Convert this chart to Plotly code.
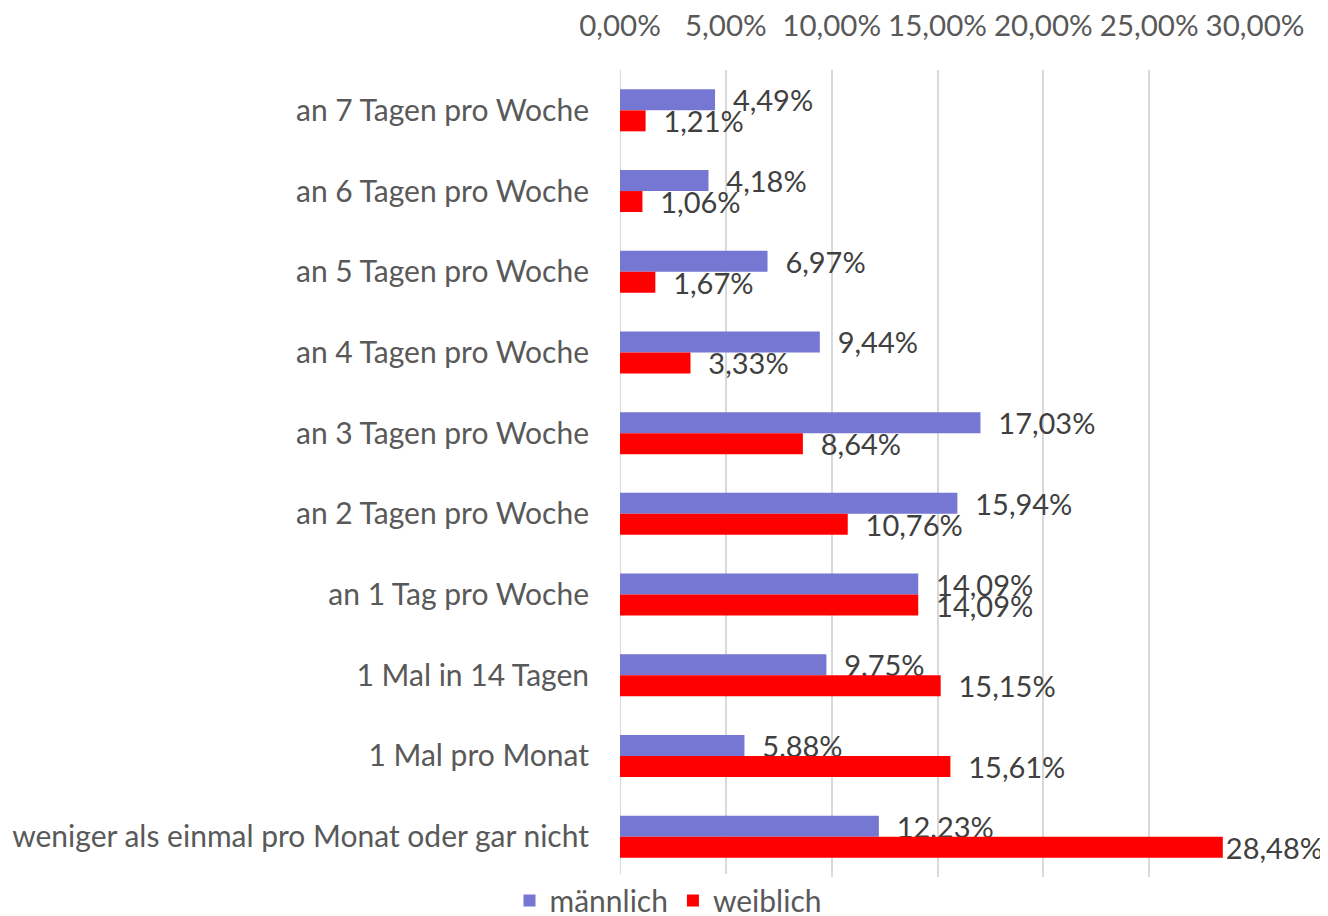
import plotly.graph_objects as go

categories = [
    "an 7 Tagen pro Woche",
    "an 6 Tagen pro Woche",
    "an 5 Tagen pro Woche",
    "an 4 Tagen pro Woche",
    "an 3 Tagen pro Woche",
    "an 2 Tagen pro Woche",
    "an 1 Tag pro Woche",
    "1 Mal in 14 Tagen",
    "1 Mal pro Monat",
    "weniger als einmal pro Monat oder gar nicht",
]
maennlich = [4.49, 4.18, 6.97, 9.44, 17.03, 15.94, 14.09, 9.75, 5.88, 12.23]
weiblich = [1.21, 1.06, 1.67, 3.33, 8.64, 10.76, 14.09, 15.15, 15.61, 28.48]
tick_vals = [0, 5, 10, 15, 20, 25, 30]

FONT = "Lato"
FS_CAT = 30
FS_NUM = 29
fig = go.Figure()
for name, vals, color in [("männlich", maennlich, "#7676D3"), ("weiblich", weiblich, "#FF0000")]:
    xs = [v / 100 for v in vals]
    # Excel pulls the label inward when it would run past the chart edge
    tmpl = ["  %{x:.2%}" if x < 0.27 else "%{x:.2%}" for x in xs]
    fig.add_trace(go.Bar(
        y=categories, x=xs, name=name, orientation="h",
        marker=dict(color=color, line=dict(width=0)),
        texttemplate=tmpl, textposition="outside", cliponaxis=False,
        constraintext="none",
        textfont=dict(family=FONT, size=FS_NUM, color="#404040"),
    ))

fig.update_layout(
    width=1320, height=908,
    separators=",.",
    barmode="group", bargap=0.48, bargroupgap=0,
    plot_bgcolor="white", paper_bgcolor="white",
    margin=dict(l=612, r=73, t=62, b=39, autoexpand=False),
    font=dict(family=FONT, size=FS_CAT, color="#595959"),
    xaxis=dict(
        side="top", range=[0, 0.30], tickvals=[t / 100 for t in tick_vals],
        tickformat=".2%", showgrid=True, gridcolor="#D9D9D9", gridwidth=2,
        zeroline=False, showline=False, ticks="", ticklabelstandoff=27,
        automargin=False,
        tickfont=dict(family=FONT, size=29.5, color="#595959"),
    ),
    yaxis=dict(
        autorange="reversed", showgrid=False, zeroline=False, showline=False,
        ticks="", ticklabelstandoff=30, automargin=False,
        tickfont=dict(family=FONT, size=FS_CAT, color="#595959"),
    ),
    legend=dict(
        orientation="h", xref="container", yref="paper",
        x=0.5, xanchor="center", y=-0.029, yanchor="middle",
        font=dict(family=FONT, size=FS_CAT, color="#595959"),
        itemwidth=30, traceorder="normal",
    ),
)
fig.add_shape(type="line", xref="x", yref="paper", x0=0, x1=0, y0=0, y1=1,
              line=dict(color="#D9D9D9", width=2), layer="below")
fig.write_html("out.html")
